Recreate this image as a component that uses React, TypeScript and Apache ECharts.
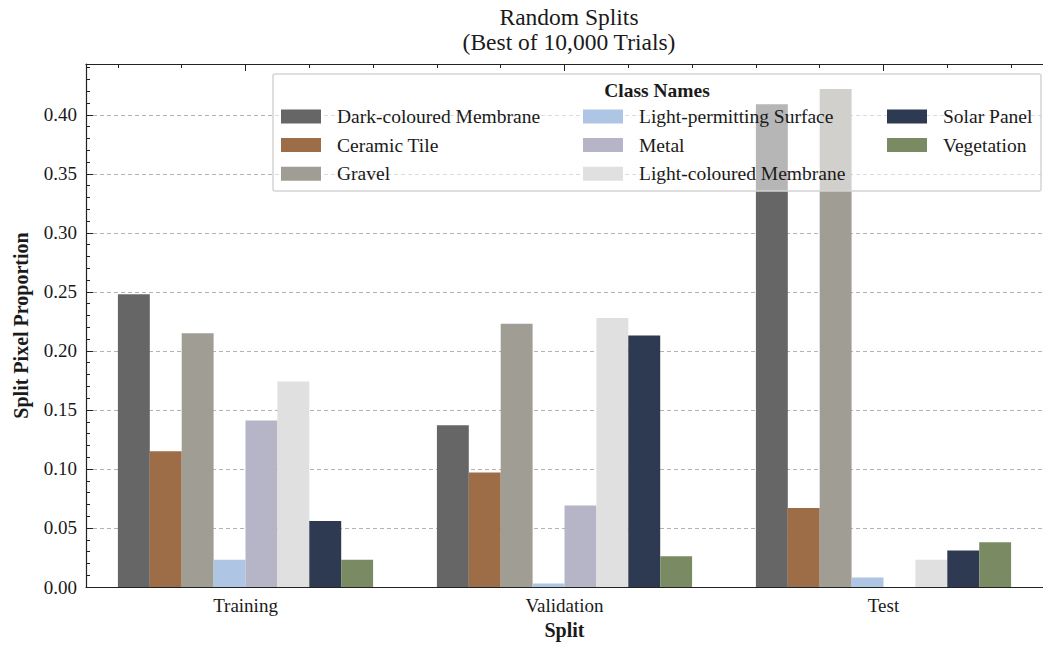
import React, { useEffect, useRef } from 'react';
import * as echarts from 'echarts';

const categories = ['Training', 'Validation', 'Test'];
const classNames = [
  'Dark-coloured Membrane',
  'Ceramic Tile',
  'Gravel',
  'Light-permitting Surface',
  'Metal',
  'Light-coloured Membrane',
  'Solar Panel',
  'Vegetation',
];
const classColors = ['#666666', '#9c6d46', '#a09d95', '#aec5e3', '#b6b5c7', '#e0e0e0', '#2d3a52', '#7a8b63'];

const darkMembrane = [0.248, 0.137, 0.409];
const ceramicTile = [0.115, 0.097, 0.067];
const gravel = [0.215, 0.223, 0.422];
const lightPermitting = [0.023, 0.003, 0.008];
const metal = [0.141, 0.069, 0.0];
const lightMembrane = [0.174, 0.228, 0.023];
const solarPanel = [0.056, 0.213, 0.031];
const vegetation = [0.023, 0.026, 0.038];
const seriesValues = [darkMembrane, ceramicTile, gravel, lightPermitting, metal, lightMembrane, solarPanel, vegetation];

const yMin = 0;
const yMax = 0.4431;
const yInterval = 0.05;

const legendColumns = [
  [classNames[0], classNames[1], classNames[2]],
  [classNames[3], classNames[4], classNames[5]],
  [classNames[6], classNames[7]],
];

const FONT = "'Liberation Serif', 'Times New Roman', Times, serif";

// top axis: 30 slots of 0.1 category units each, used for minor ticks every 0.2
const topMinorSlots = Array.from({ length: categories.length * 10 }, (_, i) => String(i));

export default function App() {
  const ref = useRef<HTMLDivElement>(null);
  useEffect(() => {
    if (!ref.current) return;
    const chart = echarts.init(ref.current, undefined, { renderer: 'svg' });
    const gridLeft = 86;
    const gridTop = 64;
    const gridWidth = 966;
    const gridHeight = 525.5;
    const legendX = [281, 583, 887];
    const option: any = {
      animation: false,
      backgroundColor: '#ffffff',
      textStyle: { fontFamily: FONT },
      title: {
        text: 'Random Splits\n(Best of 10,000 Trials)',
        left: gridLeft + gridWidth / 2,
        textAlign: 'center',
        top: 4,
        padding: 0,
        textStyle: { fontFamily: FONT, fontSize: 23.5, fontWeight: 'normal', color: '#1a1a1a', lineHeight: 25 },
      },
      grid: { left: gridLeft, top: gridTop, width: gridWidth, height: gridHeight, containLabel: false },
      legend: legendColumns.map((col, i) => ({
        data: col,
        orient: 'vertical',
        left: legendX[i],
        top: 106.5,
        padding: 0,
        itemGap: 8.6,
        itemWidth: 40,
        itemHeight: 14,
        icon: 'rect',
        selectedMode: false,
        textStyle: { fontFamily: FONT, fontSize: 19.5, color: '#1a1a1a', lineHeight: 14, padding: [0, 0, 0, 11] },
      })),
      xAxis: [
        {
          type: 'category',
          data: categories,
          position: 'bottom',
          axisLine: { lineStyle: { color: '#222', width: 1.2 } },
          axisTick: { show: false },
          axisLabel: { fontFamily: FONT, fontSize: 19, color: '#1a1a1a', margin: 9 },
          name: 'Split',
          nameLocation: 'middle',
          nameGap: 33,
          nameTextStyle: { fontFamily: FONT, fontSize: 20, fontWeight: 'bold', color: '#1a1a1a' },
          splitLine: { show: false },
        },
        {
          type: 'category',
          data: categories,
          position: 'top',
          axisLine: { show: true, lineStyle: { color: '#222', width: 1.2 } },
          axisTick: { show: true, inside: true, length: 7, alignWithLabel: true, interval: 0, lineStyle: { color: '#222' } },
          axisLabel: { show: false },
          splitLine: { show: false },
        },
        {
          type: 'category',
          data: topMinorSlots,
          position: 'top',
          axisLine: { show: false },
          axisTick: {
            show: true,
            inside: true,
            length: 4,
            interval: (i: number) => i % 2 === 1 && i % 10 !== 5,
            lineStyle: { color: '#222' },
          },
          axisLabel: { show: false },
          splitLine: { show: false },
        },
      ],
      yAxis: {
        type: 'value',
        min: yMin,
        max: yMax,
        interval: yInterval,
        axisLine: { show: true, lineStyle: { color: '#222', width: 1.2 } },
        axisTick: { show: true, inside: true, length: 7, lineStyle: { color: '#222' } },
        minorTick: { show: true, splitNumber: 5, length: 4, lineStyle: { color: '#222' } },
        axisLabel: {
          fontFamily: FONT,
          fontSize: 19,
          color: '#1a1a1a',
          margin: 9,
          showMaxLabel: false,
          formatter: (v: number) => v.toFixed(2),
        },
        splitLine: { show: true, showMaxLine: false, lineStyle: { color: '#b3b3b3', type: [4, 3], width: 1 } },
        name: 'Split Pixel Proportion',
        nameLocation: 'middle',
        nameGap: 55,
        nameTextStyle: { fontFamily: FONT, fontSize: 20, fontWeight: 'bold', color: '#1a1a1a' },
      },
      graphic: [
        {
          type: 'rect',
          z: 3,
          shape: { x: 273, y: 74, width: 768, height: 117, r: 2 },
          style: { fill: 'rgba(255,255,255,0.52)', stroke: '#d4d4d4', lineWidth: 1.5 },
        },
        {
          type: 'text',
          z: 5,
          x: 657,
          y: 90,
          style: {
            text: 'Class Names',
            fontFamily: FONT,
            fontSize: 19.5,
            fontWeight: 'bold',
            fill: '#1a1a1a',
            align: 'center',
            verticalAlign: 'middle',
          },
        },
      ],
      series: classNames.map((name, i) => ({
        name,
        type: 'bar',
        xAxisIndex: 0,
        yAxisIndex: 0,
        data: seriesValues[i],
        barGap: '0%',
        barCategoryGap: '20%',
        itemStyle: { color: classColors[i] },
        emphasis: { disabled: true },
      })),
    };
    chart.setOption(option);
    return () => chart.dispose();
  }, []);
  return <div ref={ref} style={{ position: 'fixed', left: 0, top: 0, width: 1043, height: 645 }} />;
}
